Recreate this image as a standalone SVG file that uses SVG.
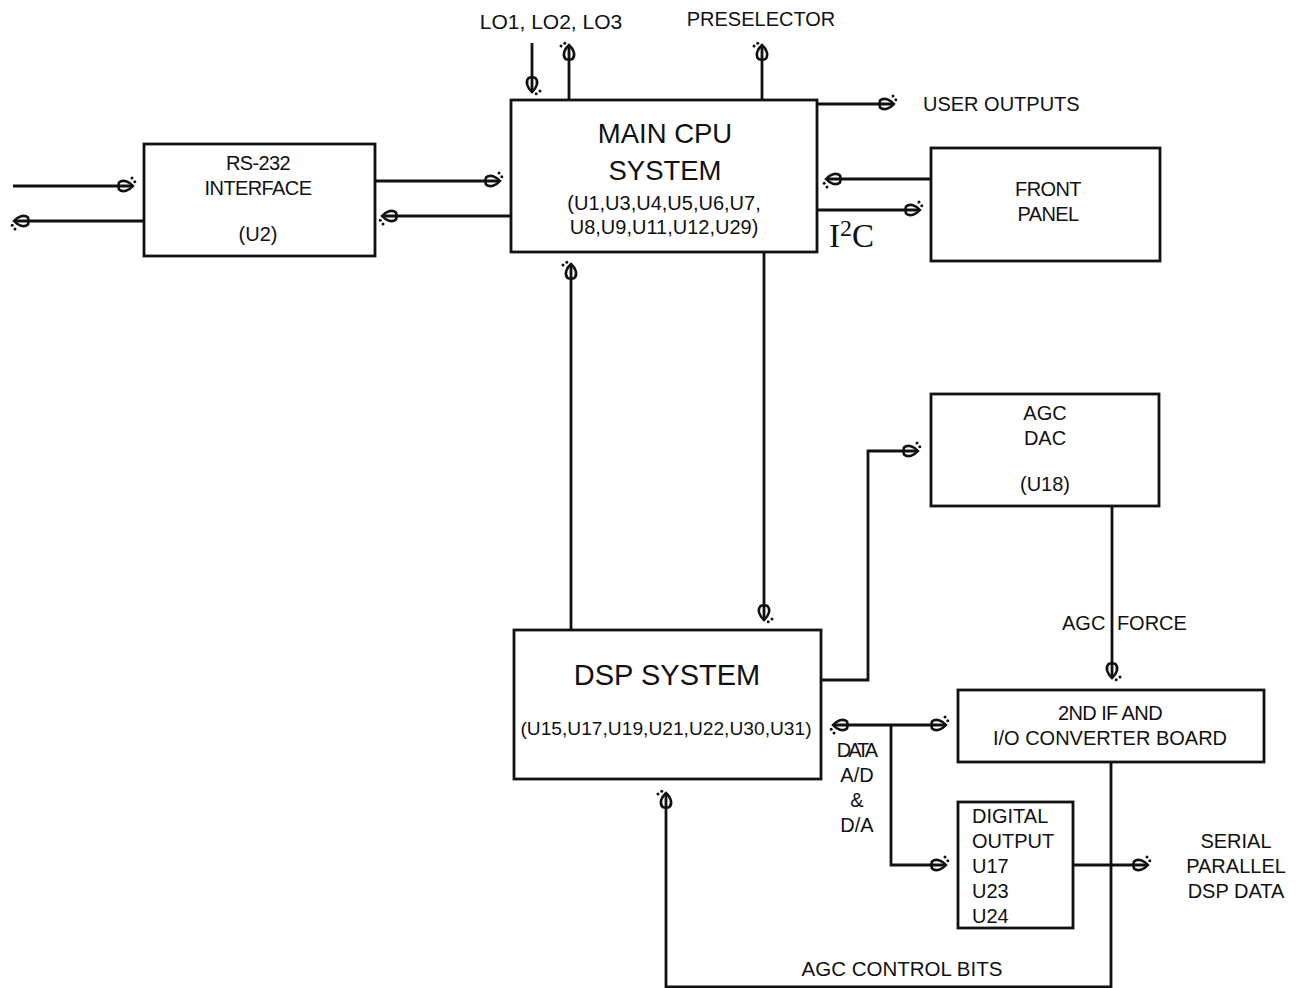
<svg xmlns="http://www.w3.org/2000/svg" width="1303" height="988" viewBox="0 0 1303 988">
<style>
.box{fill:none;stroke:#111;stroke-width:2.8}
.ln{fill:none;stroke:#111;stroke-width:2.8}
.arr{marker-end:url(#ah)}
text{font-family:"Liberation Sans",Arial,sans-serif;fill:#111;font-size:20px}
.c{text-anchor:middle}
.big{font-size:27.5px}
.cond{letter-spacing:-0.6px}
</style>
<defs>
<marker id="ah" markerUnits="userSpaceOnUse" viewBox="-16 -12 24 24" markerWidth="24" markerHeight="24" refX="0" refY="0" orient="auto" overflow="visible">
<path d="M-14,-3.5 C-10,-7 -4,-4.5 0,0 C-4,4.5 -10,7 -14,3.5 C-15,1 -15,-1 -14,-3.5 Z" fill="none" stroke="#111" stroke-width="2.6"/>
<circle cx="-1" cy="-8" r="1.5" fill="#111"/>
<circle cx="1.8" cy="-4.2" r="1.5" fill="#111"/>
</marker>
</defs>
<rect width="1303" height="988" fill="#ffffff"/>

<g id="connectors">
<path class="ln arr" d="M13,186 H133"/>
<path class="ln arr" d="M144,221 H14"/>
<path class="ln arr" d="M375,181 H500"/>
<path class="ln arr" d="M511,216 H382"/>
<path class="ln arr" d="M532,43 V92"/>
<path class="ln arr" d="M569,100 V45"/>
<path class="ln arr" d="M762,100 V45"/>
<path class="ln arr" d="M817,104 H894"/>
<path class="ln arr" d="M931,179 H826"/>
<path class="ln arr" d="M817,210 H920"/>
<path class="ln arr" d="M571,630 V264"/>
<path class="ln arr" d="M764,252 V620"/>
<path class="ln arr" d="M821,680 H868 V451 H918"/>
<path class="ln arr" d="M1112,506 V678"/>
<path class="ln arr" d="M891,725 H833"/>
<path class="ln arr" d="M891,725 H946"/>
<path class="ln arr" d="M891,725 V865 H946"/>
<path class="ln arr" d="M1073,865 H1148"/>
<path class="ln arr" d="M1111,762 V987 H666 V793"/>
</g>

<g id="rs232">
<rect class="box" x="144" y="144" width="231" height="112"/>
<text class="c cond" x="258" y="170">RS-232</text>
<text class="c cond" x="258" y="195">INTERFACE</text>
<text class="c" x="258" y="241">(U2)</text>
</g>

<g id="main-cpu">
<rect class="box" x="511" y="100" width="306" height="152"/>
<text class="c big" x="665" y="143">MAIN CPU</text>
<text class="c big" x="665" y="180">SYSTEM</text>
<text class="c" x="664" y="210">(U1,U3,U4,U5,U6,U7,</text>
<text class="c" x="664" y="234">U8,U9,U11,U12,U29)</text>
</g>

<g id="front-panel">
<rect class="box" x="931" y="148" width="229" height="113"/>
<text class="c cond" x="1048" y="196">FRONT</text>
<text class="c cond" x="1048" y="221">PANEL</text>
</g>

<g id="agc-dac">
<rect class="box" x="931" y="394" width="228" height="112"/>
<text class="c" x="1045" y="420">AGC</text>
<text class="c" x="1045" y="445">DAC</text>
<text class="c" x="1045" y="491">(U18)</text>
</g>

<g id="dsp">
<rect class="box" x="514" y="630" width="307" height="149"/>
<text class="c" x="667" y="685" style="font-size:29px">DSP SYSTEM</text>
<text class="c" x="666" y="735" style="font-size:19.2px">(U15,U17,U19,U21,U22,U30,U31)</text>
</g>

<g id="if-board">
<rect class="box" x="958" y="690" width="306" height="72"/>
<text class="c cond" x="1110" y="720">2ND IF AND</text>
<text class="c" x="1110" y="745">I/O CONVERTER BOARD</text>
</g>

<g id="digital-output">
<rect class="box" x="958" y="802" width="115" height="126"/>
<text x="972" y="823">DIGITAL</text>
<text x="972" y="848">OUTPUT</text>
<text x="972" y="873">U17</text>
<text x="972" y="898">U23</text>
<text x="972" y="923">U24</text>
</g>

<g id="labels">
<text class="c" x="551" y="29" style="font-size:21px">LO1, LO2, LO3</text>
<text class="c" x="761" y="26">PRESELECTOR</text>
<text x="923" y="111">USER OUTPUTS</text>
<text x="829" y="247" style="font-family:'Liberation Serif','Times New Roman',serif;font-size:33px">I<tspan dy="-11" style="font-size:24px">2</tspan><tspan dy="11">C</tspan></text>
<text x="1062" y="630" style="word-spacing:6px">AGC FORCE</text>
<text class="c" x="856" y="757" style="letter-spacing:-3px">DATA</text>
<text class="c" x="857" y="782">A/D</text>
<text class="c" x="857" y="807">&amp;</text>
<text class="c" x="857" y="832">D/A</text>
<text class="c" x="1236" y="848">SERIAL</text>
<text class="c" x="1236" y="873">PARALLEL</text>
<text class="c" x="1236" y="898">DSP DATA</text>
<text class="c" x="902" y="976" style="font-size:20.5px">AGC CONTROL BITS</text>
</g>
</svg>
